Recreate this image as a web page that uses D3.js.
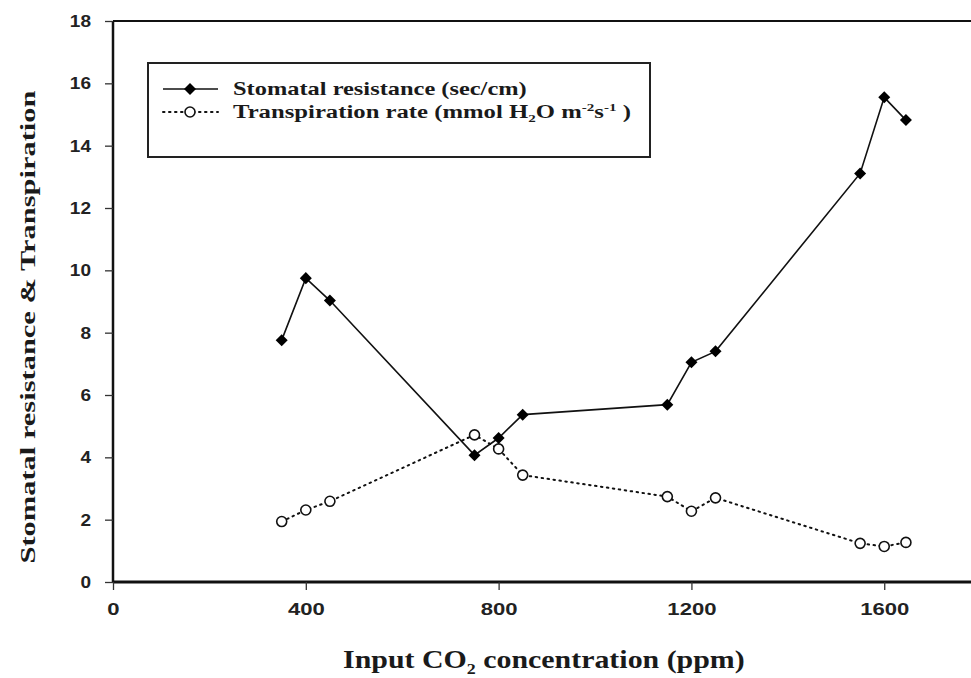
<!DOCTYPE html>
<html>
<head>
<meta charset="utf-8">
<script src="https://cdn.jsdelivr.net/npm/d3@7"></script>
<style>
  html, body { margin: 0; padding: 0; background: #fff; }
  svg { display: block; }
</style>
</head>
<body>
<svg id="chart" width="971" height="678"></svg>
<script>
// CO2 levels (ppm) at which both responses were measured
const co2 = [350, 400, 450, 750, 800, 850, 1150, 1200, 1250, 1550, 1600, 1645];
// Stomatal resistance (sec/cm)
const resistance = [7.76, 9.75, 9.03, 4.07, 4.62, 5.37, 5.69, 7.05, 7.40, 13.11, 15.55, 14.82];
// Transpiration rate (mmol H2O m-2 s-1)
const transpiration = [1.94, 2.31, 2.59, 4.72, 4.27, 3.43, 2.74, 2.27, 2.70, 1.24, 1.14, 1.27];
const xTicks = [0, 400, 800, 1200, 1600];
const yTicks = [0, 2, 4, 6, 8, 10, 12, 14, 16, 18];

const svg = d3.select("#chart");
const x = d3.scaleLinear().domain([0, 1780]).range([113, 971]);
const y = d3.scaleLinear().domain([0, 18]).range([582, 21]);

const serif = "'Liberation Serif', 'Times New Roman', serif";
const sans = "'Liberation Sans', Arial, sans-serif";

// stretch/squeeze a text element horizontally so it spans `width` px from its anchor
function fitWidth(text, width, anchor) {
  const bb = text.node().getBBox();
  const sx = width / bb.width;
  const ax = +text.attr("x"), ay = +text.attr("y");
  const ox = anchor === "middle" ? ax : ax;
  text.attr("transform", `translate(${ox},${ay}) scale(${sx},1) translate(${-ox},${-ay})`);
}

// top frame line
svg.append("line")
  .attr("x1", x(0)).attr("x2", x(1780))
  .attr("y1", y(18)).attr("y2", y(18))
  .attr("stroke", "#111").attr("stroke-width", 2);

// y axis
const yAxis = svg.append("g")
  .attr("transform", `translate(${x(0)},0)`)
  .call(d3.axisLeft(y).tickValues(yTicks).tickSize(8).tickPadding(14).tickFormat(d3.format("d")));
yAxis.select(".domain").attr("stroke", "#111").attr("stroke-width", 2.5).attr("d", `M0,${y(18)}V${y(0)}`);
yAxis.selectAll(".tick line").attr("stroke", "#333").attr("stroke-width", 1.3);
yAxis.selectAll(".tick text")
  .attr("font-family", sans).attr("font-weight", "bold").attr("font-size", 17).attr("fill", "#222")
  .attr("transform", "scale(1.12,1)").attr("x", -22 / 1.12 + 0);

// x axis
const xAxis = svg.append("g")
  .attr("transform", `translate(0,${y(0)})`)
  .call(d3.axisBottom(x).tickValues(xTicks).tickSize(8).tickPadding(13).tickFormat(d3.format("d")));
xAxis.select(".domain").attr("stroke", "#111").attr("stroke-width", 3).attr("d", `M${x(0)},0H${x(1780)}`);
xAxis.selectAll(".tick line").attr("stroke", "#333").attr("stroke-width", 1.3);
xAxis.selectAll(".tick text")
  .attr("font-family", sans).attr("font-weight", "bold").attr("font-size", 17).attr("fill", "#222")
  .attr("transform", "scale(1.3,1)");

// series lines
const resPts = co2.map((c, i) => [c, resistance[i]]);
const trPts = co2.map((c, i) => [c, transpiration[i]]);
const line = d3.line().x(d => x(d[0])).y(d => y(d[1]));

svg.append("path").datum(trPts).attr("d", line)
  .attr("fill", "none").attr("stroke", "#111").attr("stroke-width", 2)
  .attr("stroke-dasharray", "1.5,4.5").attr("stroke-linecap", "round");
svg.append("path").datum(resPts).attr("d", line)
  .attr("fill", "none").attr("stroke", "#111").attr("stroke-width", 1.6);

const diamond = d3.symbol().type(d3.symbolDiamond2).size(92);

svg.selectAll(".tr").data(trPts).enter().append("circle")
  .attr("cx", d => x(d[0])).attr("cy", d => y(d[1])).attr("r", 5)
  .attr("fill", "#fff").attr("stroke", "#111").attr("stroke-width", 1.6);
svg.selectAll(".res").data(resPts).enter().append("path")
  .attr("d", diamond)
  .attr("transform", d => `translate(${x(d[0])},${y(d[1])})`)
  .attr("fill", "#000");

// legend
const lg = svg.append("g");
lg.append("rect").attr("x", 148).attr("y", 63).attr("width", 502).attr("height", 94)
  .attr("fill", "#fff").attr("stroke", "#222").attr("stroke-width", 2);
lg.append("line").attr("x1", 163).attr("x2", 218).attr("y1", 89).attr("y2", 89)
  .attr("stroke", "#111").attr("stroke-width", 1.6);
lg.append("path").attr("d", diamond).attr("transform", "translate(190,89)").attr("fill", "#000");
lg.append("line").attr("x1", 163).attr("x2", 218).attr("y1", 112).attr("y2", 112)
  .attr("stroke", "#111").attr("stroke-width", 2)
  .attr("stroke-dasharray", "1.5,4.5").attr("stroke-linecap", "round");
lg.append("circle").attr("cx", 190).attr("cy", 112).attr("r", 5)
  .attr("fill", "#fff").attr("stroke", "#111").attr("stroke-width", 1.6);

const t1 = lg.append("text").attr("x", 233).attr("y", 95)
  .attr("font-family", serif).attr("font-weight", "bold").attr("font-size", 18).attr("fill", "#1a1a1a")
  .text("Stomatal resistance (sec/cm)");
fitWidth(t1, 294);

const t2 = lg.append("text").attr("x", 233).attr("y", 118)
  .attr("font-family", serif).attr("font-weight", "bold").attr("font-size", 18).attr("fill", "#1a1a1a");
t2.append("tspan").text("Transpiration rate (mmol H");
t2.append("tspan").attr("font-size", 11).attr("dy", 4).text("2");
t2.append("tspan").attr("dy", -4).text("O m");
t2.append("tspan").attr("font-size", 11).attr("dy", -7).text("-2");
t2.append("tspan").attr("dy", 7).text("s");
t2.append("tspan").attr("font-size", 11).attr("dy", -7).text("-1");
t2.append("tspan").attr("dy", 7).text(" )");
fitWidth(t2, 398);

// axis titles
const xt = svg.append("text").attr("x", 343).attr("y", 668)
  .attr("font-family", serif).attr("font-weight", "bold").attr("font-size", 25).attr("fill", "#1a1a1a");
xt.append("tspan").text("Input CO");
xt.append("tspan").attr("font-size", 15).attr("dy", 6).text("2");
xt.append("tspan").attr("dy", -6).text(" concentration (ppm)");
fitWidth(xt, 402);

svg.append("text")
  .attr("transform", "translate(35,327) rotate(-90)")
  .attr("text-anchor", "middle")
  .attr("font-family", serif).attr("font-weight", "bold").attr("font-size", 22).attr("fill", "#1a1a1a")
  .attr("textLength", 473).attr("lengthAdjust", "spacingAndGlyphs")
  .text("Stomatal resistance & Transpiration");
</script>
</body>
</html>
